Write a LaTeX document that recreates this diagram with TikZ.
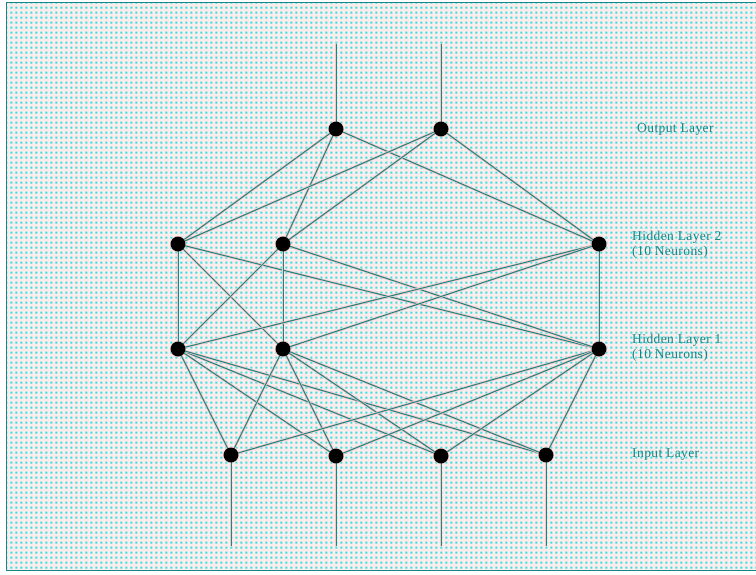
\documentclass[tikz,border=0pt]{standalone}
\usepackage{fontspec}
\setmainfont{Liberation Serif}
\newfontfamily\lblfont[LetterSpace=3]{Liberation Serif}
\usetikzlibrary{patterns.meta}
\definecolor{lineteal}{RGB}{22,135,135}
\definecolor{halo}{RGB}{250,195,195}
\definecolor{paper}{RGB}{252,236,236}
\definecolor{dotc}{RGB}{50,225,225}
\tikzdeclarepattern{name=cdots, type=uncolored, bottom left={(0pt,0pt)}, top right={(4.8pt,4.8pt)}, tile size={(4.8pt,4.8pt)}, code={\fill (1.4pt,1.4pt) rectangle (3.4pt,3.4pt);}}
\tikzset{
  neuron/.style={circle, fill=black, minimum size=15pt, inner sep=0pt, draw=halo, line width=0.8pt},
  wire/.style={draw=lineteal, line width=1pt, preaction={draw=halo, line width=2.4pt}},
  lbl/.style={text=lineteal, font=\lblfont\fontsize{13.5}{15}\selectfont, align=left, anchor=west, inner sep=0pt}
}
\begin{document}
\begin{tikzpicture}[x=1pt,y=-1pt]
\useasboundingbox (0,0) rectangle (756,574);
\fill[paper] (6,2) rectangle (756,571);
\fill[pattern=cdots, pattern color=dotc] (7,3) rectangle (756,570);
\draw[lineteal, line width=1.2pt] (756,2.5) -- (6.5,2.5) -- (6.5,570.5) -- (756,570.5);
% nodes
\node[neuron] (o1) at (336,129) {};
\node[neuron] (o2) at (441,129) {};
\node[neuron] (h2a) at (178,244) {};
\node[neuron] (h2b) at (283,244) {};
\node[neuron] (h2c) at (599,244) {};
\node[neuron] (h1a) at (178,349) {};
\node[neuron] (h1b) at (283,349) {};
\node[neuron] (h1c) at (599,349) {};
\node[neuron] (i1) at (231,455) {};
\node[neuron] (i2) at (336,456) {};
\node[neuron] (i3) at (441,456) {};
\node[neuron] (i4) at (546,455) {};
\coordinate (t1) at (336,44);
\coordinate (t2) at (441,44);
\coordinate (b1) at (231,546);
\coordinate (b2) at (336,546);
\coordinate (b3) at (441,546);
\coordinate (b4) at (546,546);
% connections
\foreach \a in {o1,o2} \foreach \b in {h2a,h2b,h2c} \draw[wire] (\a.center) -- (\b.center);
\foreach \a in {h2a,h2b,h2c} \foreach \b in {h1a,h1b,h1c} \draw[wire] (\a.center) -- (\b.center);
\foreach \a in {h1a,h1b,h1c} \foreach \b in {i1,i2,i3,i4} \draw[wire] (\a.center) -- (\b.center);
\draw[wire] (t1) -- (o1.center);
\draw[wire] (t2) -- (o2.center);
\draw[wire] (i1.center) -- (b1);
\draw[wire] (i2.center) -- (b2);
\draw[wire] (i3.center) -- (b3);
\draw[wire] (i4.center) -- (b4);
% redraw neurons on top
\foreach \n in {o1,o2,h2a,h2b,h2c,h1a,h1b,h1c,i1,i2,i3,i4}
  \fill[black] (\n.center) circle (7.4pt);
% labels
\node[lbl] (lo) at (637,129) {Output Layer};
\node[lbl] (lh2) at (632,245) {Hidden Layer 2\\(10 Neurons)};
\node[lbl] (lh1) at (632,348) {Hidden Layer 1\\(10 Neurons)};
\node[lbl] (li) at (632,455) {Input Layer};
\end{tikzpicture}
\end{document}
